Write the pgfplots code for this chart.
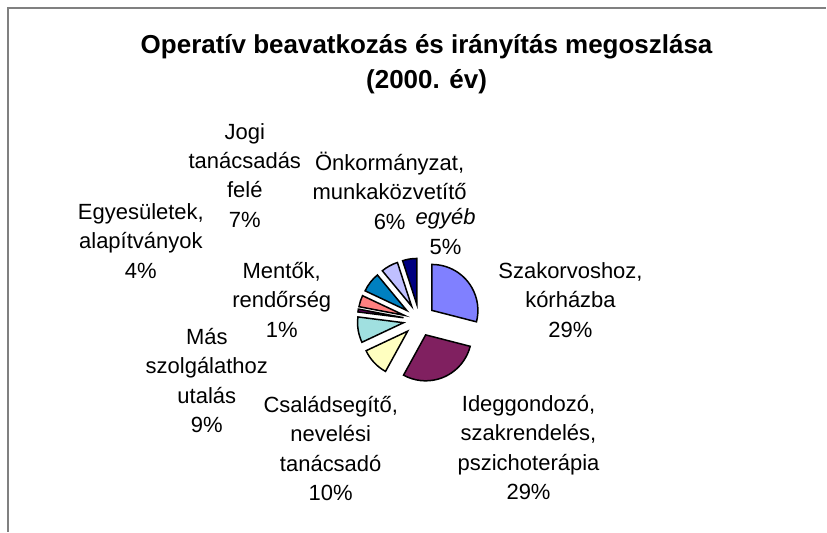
\documentclass[border=0pt]{standalone}
\usepackage{pgfplots}
\pgfplotsset{compat=1.18}
\usepackage{pgfplotstable}
\usepackage{fontspec}
\setmainfont{Liberation Sans}
\usetikzlibrary{calc}
\definecolor{s1}{HTML}{8080FF}
\definecolor{s2}{HTML}{802060}
\definecolor{s3}{HTML}{FFFFC0}
\definecolor{s4}{HTML}{A0E0E0}
\definecolor{s5}{HTML}{600060}
\definecolor{s6}{HTML}{FF8080}
\definecolor{s7}{HTML}{0080C0}
\definecolor{s8}{HTML}{C0C0FF}
\definecolor{s9}{HTML}{000080}
\definecolor{frame}{HTML}{808080}
% share (%) of each category, clockwise from 12 o'clock
\pgfplotstableread{
value color
29 s1
29 s2
10 s3
9 s4
1 s5
4 s6
7 s7
6 s8
5 s9
}\piedata
\begin{document}
\begin{tikzpicture}
\begin{axis}[width=827pt, height=532pt, scale only axis,
  xmin=0, xmax=827, ymin=0, ymax=532, hide axis, clip=false]
\path (axis cs:0,0) rectangle (axis cs:827,532);
\draw[frame, line width=1.5pt] (axis cs:8,0) -- (axis cs:8,524) -- (axis cs:827,524);
\pgfplotsextra{
  \gdef\cum{90}
  \pgfplotstableforeachcolumnelement{value}\of\piedata\as\v{
    \pgfmathsetmacro\a{\cum}
    \pgfmathsetmacro\b{\cum-3.6*\v}
    \pgfmathsetmacro\m{(\a+\b)/2}
    \pgfplotstablegetelem{\pgfplotstablerow}{color}\of\piedata
    \edef\col{\pgfplotsretval}
    \draw[fill=\col, line width=1.5pt, line join=miter]
      ($(axis cs:419.7,211.5)+(\m:16pt)$) -- ++(\a:46pt)
      arc[start angle=\a, end angle=\b, radius=46pt] -- cycle;
    \xdef\cum{\b}
  }
}
\node[align=center, font=\fontsize{26pt}{35pt}\selectfont\bfseries] at (axis cs:427,467.5)
  {Operatív beavatkozás és irányítás megoszlása\\(2000. év)};
\tikzset{lab/.style={align=center, font=\fontsize{22pt}{29.5pt}\selectfont}}
\node[lab] at (axis cs:245,356.5) {Jogi\\tanácsadás\\felé\\7\%};
\node[lab] at (axis cs:390,341) {Önkormányzat,\\munkaközvetítő\\6\%};
\node[lab] at (axis cs:446,300.5) {\textit{egyéb}\\5\%};
\node[lab] at (axis cs:141,291) {Egyesületek,\\alapítványok\\4\%};
\node[lab] at (axis cs:282,232) {Mentők,\\rendőrség\\1\%};
\node[lab] at (axis cs:571,232) {Szakorvoshoz,\\kórházba\\29\%};
\node[lab] at (axis cs:207,151) {Más\\szolgálathoz\\utalás\\9\%};
\node[lab] at (axis cs:331,83) {Családsegítő,\\nevelési\\tanácsadó\\10\%};
\node[lab] at (axis cs:529,84) {Ideggondozó,\\szakrendelés,\\pszichoterápia\\29\%};
\end{axis}
\end{tikzpicture}
\end{document}
